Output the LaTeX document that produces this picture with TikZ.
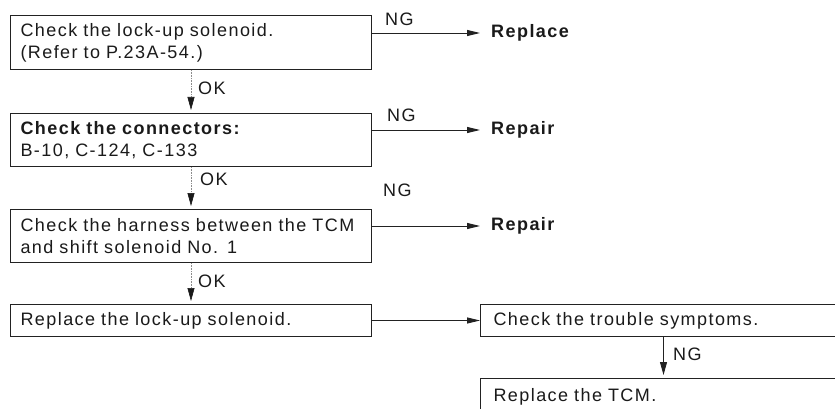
\documentclass[tikz,border=0pt]{standalone}
\usepackage{fontspec}
\setmainfont{Liberation Sans}[LetterSpace=8, WordSpace=2.4]
\usetikzlibrary{arrows.meta}

\definecolor{ink}{HTML}{1A1A1A}
\definecolor{frame}{HTML}{222222}

\begin{document}
\begin{tikzpicture}[x=1pt, y=-1pt,
  txt/.style={font=\fontsize{18}{22}\selectfont, text=ink},
  box/.style={txt, draw=frame, line width=1pt, anchor=north west, align=left,
              inner xsep=10pt, inner ysep=0pt, text width=341pt, minimum width=361pt},
  widebox/.style={box, inner xsep=13pt, text width=340pt, minimum width=366pt},
  tag/.style={txt, anchor=west, inner sep=0pt},
  result/.style={tag, font=\fontsize{18}{22}\selectfont\bfseries},
  okline/.style={draw=black!45, line width=0.6pt, densely dotted, shorten >=3pt,
                 -{Triangle[length=13pt, width=7pt, color=ink]}},
  ngline/.style={draw=frame, line width=0.9pt, -{Triangle[length=13pt, width=6pt]}},
  downline/.style={ngline, shorten >=3pt, -{Triangle[length=13pt, width=7pt]}},
]
\fill[white] (0,0) rectangle (835,409);
\clip (0,0) rectangle (835,409);

% main column of checks
\node[box, minimum height=54pt] (b1) at (10,15)
  {\mbox{Check the lock-up solenoid.}\\\mbox{(Refer to P.23A-54.)}};
\node[box, minimum height=53pt] (b2) at (10,113)
  {\mbox{\bfseries Check the connectors:}\\\mbox{B-10, C-124, C-133}};
\node[box, minimum height=53pt] (b3) at (10,209)
  {\mbox{Check the harness between the TCM}\\\mbox{and shift solenoid No. 1}};
\node[box, minimum height=32pt] (b4) at (10,304)
  {\mbox{Replace the lock-up solenoid.}};

% right-hand column
\node[widebox, minimum height=32pt] (b5) at (480,304)
  {\mbox{Check the trouble symptoms.}};
\node[widebox, minimum height=36pt] (b6) at (480,378)
  {\mbox{Replace the TCM.}};

% outcomes
\node[result] (r1) at (491,33) {Replace};
\node[result] (r2) at (491,130) {Repair};
\node[result] (r3) at (491,226) {Repair};

% branch labels
\node[tag] (ng1) at (385,19) {NG};
\node[tag] (ng2) at (387,115) {NG};
\node[tag] (ng3) at (383,190) {NG};
\node[tag] (ng4) at (673,354) {NG};
\node[tag] (ok1) at (198,88) {OK};
\node[tag] (ok2) at (200,179) {OK};
\node[tag] (ok3) at (198,281) {OK};

% connectors
\draw[okline] (b1.south) -- (b2.north);
\draw[okline] (b2.south) -- (b3.north);
\draw[okline] (b3.south) -- (b4.north);
\draw[ngline, shorten >=11pt] (b1.east |- r1.west) -- (r1.west);
\draw[ngline, shorten >=11pt] (b2.east |- r2.west) -- (r2.west);
\draw[ngline, shorten >=11pt] (b3.east |- r3.west) -- (r3.west);
\draw[ngline] (b4.east) -- (b5.west);
\draw[downline] (b5.south) -- (b6.north);
\end{tikzpicture}
\end{document}
